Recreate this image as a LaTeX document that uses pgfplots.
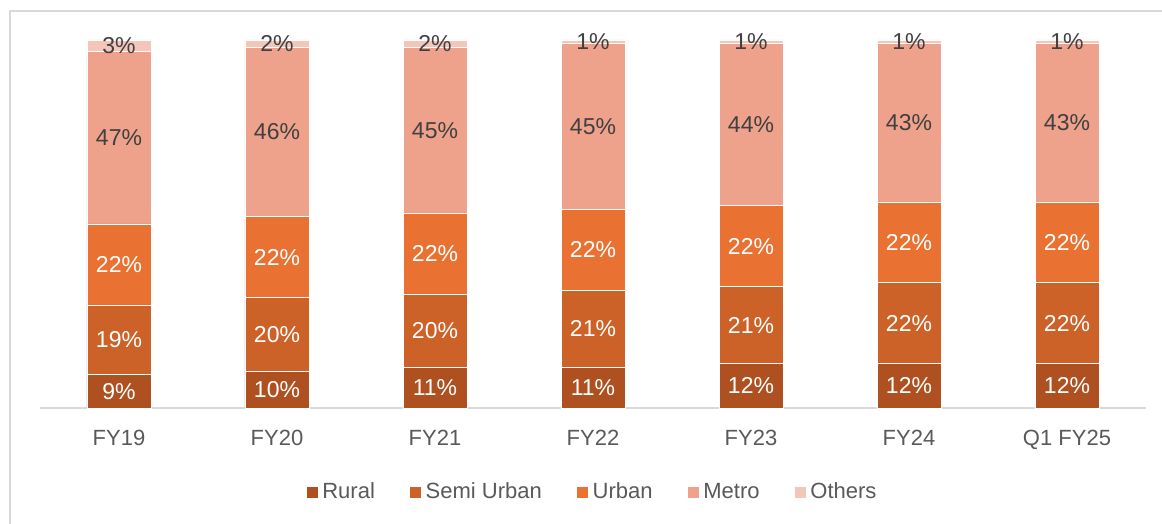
\documentclass[border=0pt]{standalone}
\usepackage{pgfplots}
\pgfplotsset{compat=1.18}
\usepackage{fontspec}
\setmainfont{Liberation Sans}
\definecolor{crural}{HTML}{AE5020}
\definecolor{csemi}{HTML}{CD6229}
\definecolor{curban}{HTML}{E97132}
\definecolor{cmetro}{HTML}{EEA28B}
\definecolor{cothers}{HTML}{F4C5B9}
\definecolor{ctxt}{HTML}{595959}
\definecolor{clab}{HTML}{404040}
\definecolor{cline}{HTML}{D9D9D9}
\pgfplotsset{
  mid label/.style={
    point meta=explicit,
    nodes near coords={\pgfmathprintnumber[assume math mode=true,fixed,precision=0]{\pgfplotspointmeta}\%},
    every node near coord/.append style={
      anchor=center, font=\fontsize{11.5}{13}\selectfont, text=#1,
    },
  },
}
\begin{document}
\begin{tikzpicture}
\begin{axis}[
  width=553pt, height=184pt, scale only axis,
  ybar stacked, bar width=32pt,
  xmin=-0.5, xmax=6.5, ymin=0, ymax=100,
  axis x line*=bottom, axis y line=none,
  x axis line style={draw=cline, line width=1pt},
  xtick={0,1,2,3,4,5,6},
  xticklabels={FY19,FY20,FY21,FY22,FY23,FY24,Q1 FY25},
  major tick length=0pt,
  xticklabel style={anchor=base, yshift=-19pt, font=\fontsize{11}{13}\selectfont, text=ctxt},
  clip=false,
  legend columns=5,
  legend style={at={(axis description cs:0.5,0)}, anchor=center, yshift=-42pt, draw=none,
    font=\fontsize{11}{13}\selectfont, text=ctxt,
    /tikz/every even column/.append style={column sep=15pt}},
  legend image code/.code={\fill[#1] (0pt,-3pt) rectangle (6pt,3pt);},
  every axis plot/.append style={draw=white, line width=0.4pt},
]
\addplot[fill=crural, mid label=white] coordinates {(0,9)[9] (1,10)[10] (2,11)[11] (3,11)[11] (4,12)[12] (5,12)[12] (6,12)[12]};
\addlegendentry{Rural}
\addplot[fill=csemi, mid label=white] coordinates {(0,19)[19] (1,20)[20] (2,20)[20] (3,21)[21] (4,21)[21] (5,22)[22] (6,22)[22]};
\addlegendentry{Semi Urban}
\addplot[fill=curban, mid label=white] coordinates {(0,22)[22] (1,22)[22] (2,22)[22] (3,22)[22] (4,22)[22] (5,22)[22] (6,22)[22]};
\addlegendentry{Urban}
\addplot[fill=cmetro, mid label=clab] coordinates {(0,47)[47] (1,46)[46] (2,45)[45] (3,45)[45] (4,44)[44] (5,43)[43] (6,43)[43]};
\addlegendentry{Metro}
\addplot[fill=cothers, mid label=clab] coordinates {(0,3)[3] (1,2)[2] (2,2)[2] (3,1)[1] (4,1)[1] (5,1)[1] (6,1)[1]};
\addlegendentry{Others}
\end{axis}
\draw[cline, line width=1pt] (-15pt,-58pt) -- (-15pt,198.5pt) -- (561pt,198.5pt);
\pgfresetboundingbox
\path[use as bounding box] (-20pt,-58pt) rectangle (561pt,204pt);
\end{tikzpicture}
\end{document}
